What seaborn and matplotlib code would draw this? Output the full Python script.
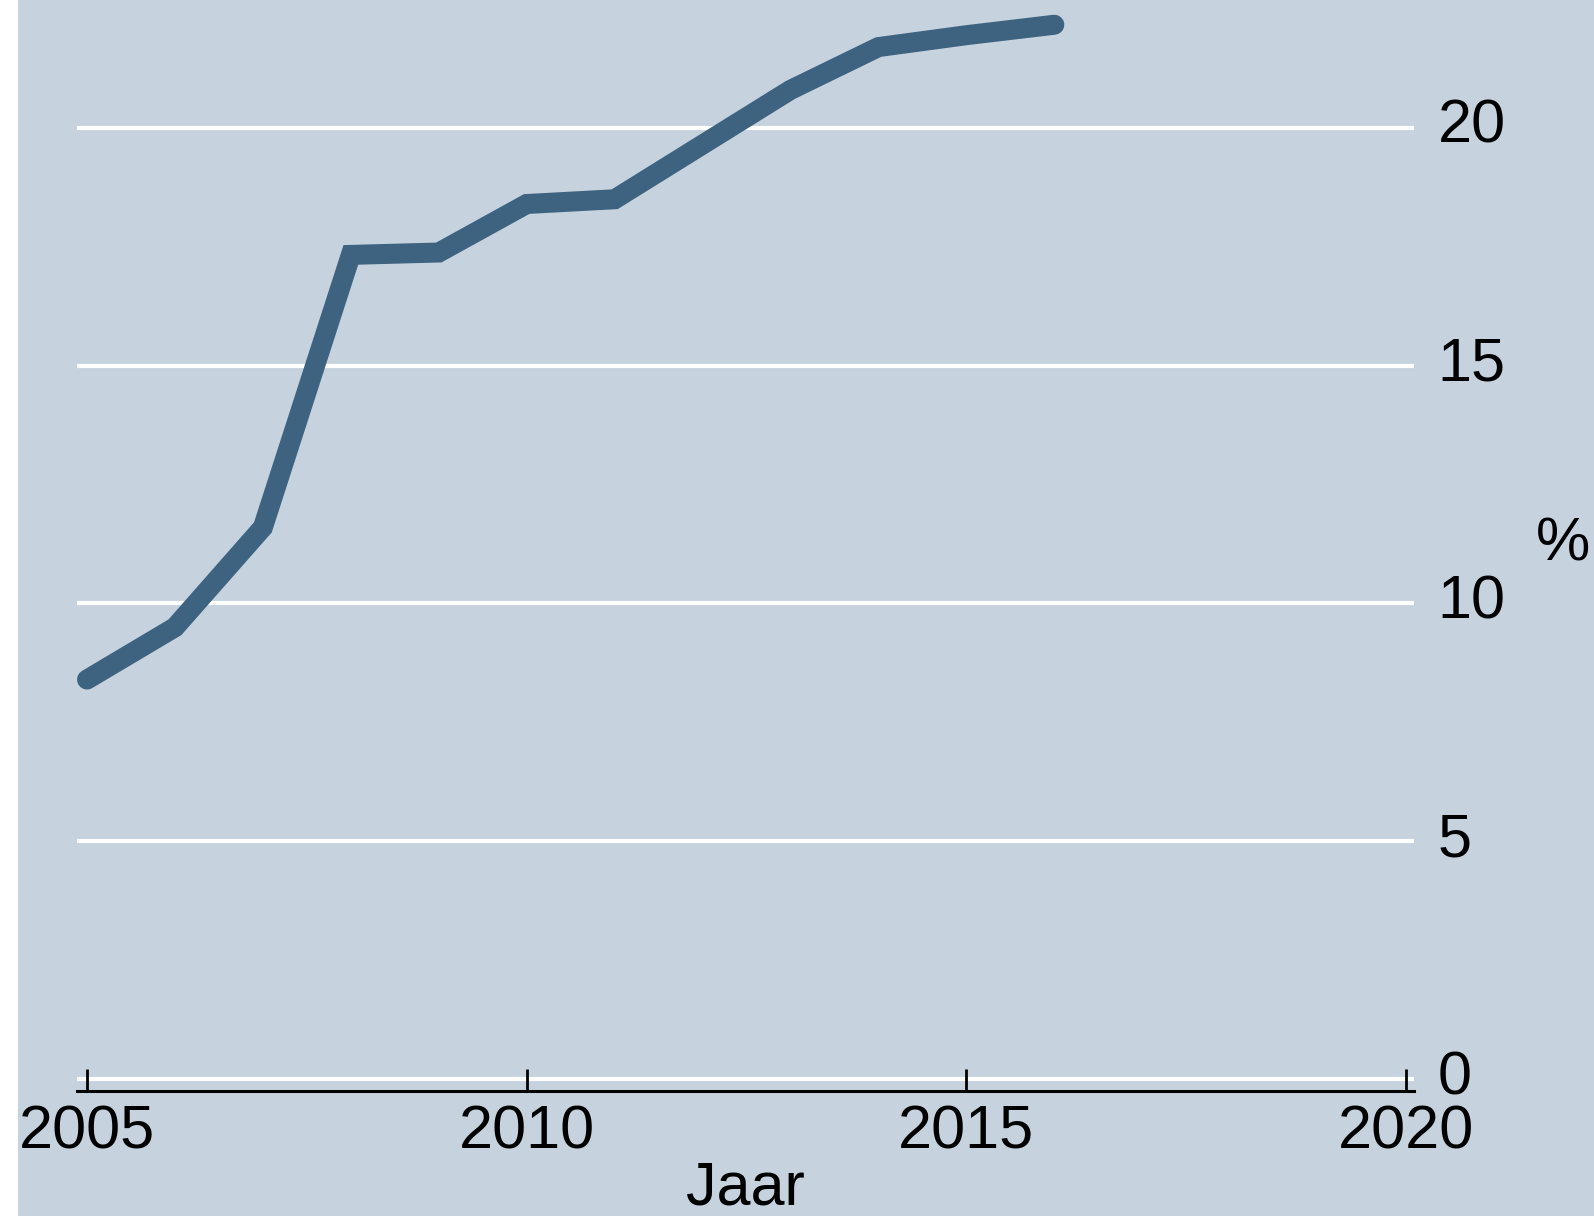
import numpy as np
import pandas as pd
import matplotlib
matplotlib.use("Agg")
import matplotlib.pyplot as plt
import seaborn as sns
from matplotlib.patches import Rectangle
from matplotlib.transforms import ScaledTranslation

# data
years = [2005, 2006, 2007, 2008, 2009, 2010, 2011, 2012, 2013, 2014, 2015, 2016]
pct = [8.4, 9.5, 11.6, 17.33, 17.38, 18.4, 18.5, 19.65, 20.8, 21.7, 21.95, 22.17]
y_ticks = [0, 5, 10, 15, 20]
x_ticks = [2005, 2010, 2015, 2020]

BG = "#c6d3df"
LINE = "#3e6380"

df = pd.DataFrame({"Jaar": years, "pct": pct})

sns.set_theme(style="white")
plt.rcParams["font.family"] = ["Liberation Sans", "DejaVu Sans"]

W, H = 1594, 1216
fig = plt.figure(figsize=(W / 100, H / 100), dpi=100, facecolor=BG)
# white strip on the left edge
fig.patches.append(Rectangle((0, 0), 18 / W, 1, transform=fig.transFigure,
                             facecolor="white", edgecolor="none", zorder=0))

ax = fig.add_axes([77 / W, (H - 1091) / H, (1414 - 77) / W, 1091 / H])
ax.set_facecolor(BG)
ax.set_axisbelow(False)

for yv in y_ticks:
    ax.axhline(yv, color="white", lw=3, zorder=1)

sns.lineplot(data=df, x="Jaar", y="pct", ax=ax, color=LINE, lw=14.4,
             solid_capstyle="round", solid_joinstyle="miter", zorder=3)

ax.set_xlim(2004.886, 2020.09)
ax.set_ylim(-0.252, 22.69)

ax.set_xticks(x_ticks)
ax.set_xticklabels([str(x) for x in x_ticks])
ax.set_yticks(y_ticks)
ax.set_yticklabels([str(v) for v in y_ticks])

ax.yaxis.tick_right()
ax.yaxis.set_label_position("right")
ax.tick_params(axis="y", length=0, pad=17, labelsize=44, colors="black")
ax.tick_params(axis="x", direction="in", length=16, width=2, pad=10,
               labelsize=44, colors="black", bottom=True)

# y labels sit a little above their gridlines in the reference
shift = ScaledTranslation(0, 7 / 100, fig.dpi_scale_trans)
for t in ax.yaxis.get_major_ticks():
    t.label2.set_transform(t.label2.get_transform() + shift)

for side in ["top", "left", "right"]:
    ax.spines[side].set_visible(False)
ax.spines["bottom"].set_color("black")
ax.spines["bottom"].set_linewidth(2.2)
ax.spines["bottom"].set_zorder(4)

ax.set_xlabel("Jaar", fontsize=44, color="black", va="center")
ax.xaxis.set_label_coords(0.5, (1091 - 1189) / 1091)
ax.set_ylabel("%", fontsize=44, rotation=0, color="black", ha="center", va="center")
ax.yaxis.set_label_coords((1563 - 77) / (1414 - 77), (1091 - 545) / 1091)
ax.grid(False)

fig.savefig("out.png", dpi=100, facecolor=BG)
